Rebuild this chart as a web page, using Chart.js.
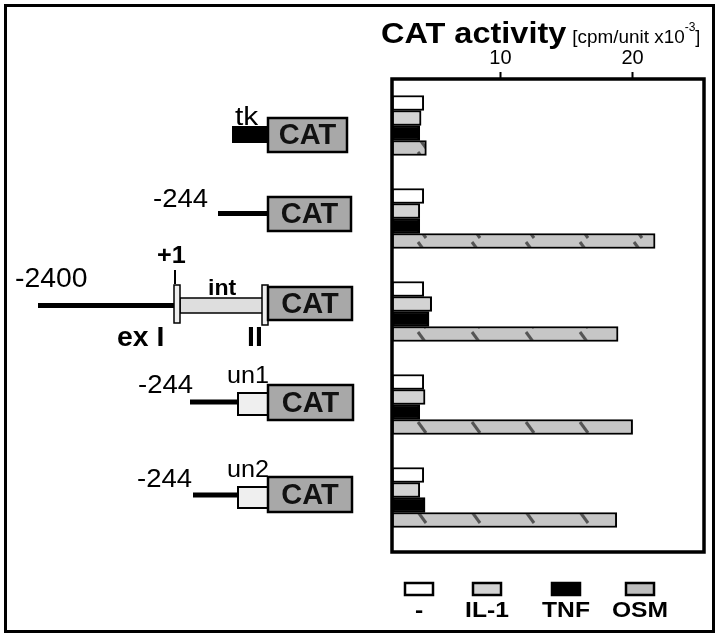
<!DOCTYPE html>
<html lang="en">
<head>
<meta charset="UTF-8">
<title>CAT activity</title>
<script src="https://cdn.jsdelivr.net/npm/chart.js"></script>
<style>
  body { margin: 0; background: #fff; }
</style>
</head>
<body>
<canvas id="myChart" width="720" height="644"></canvas>

<script>
// constructs, top to bottom
var constructs = ['tk', '-244', '-2400', '-244 un1', '-244 un2'];
// CAT activity [cpm/unit x10^-3]
var ctrlData = [4.2, 4.2, 4.2, 4.2, 4.2];
var il1Data  = [4.0, 3.9, 4.8, 4.3, 3.9];
var tnfData  = [3.9, 3.9, 4.6, 3.9, 4.3];
var osmData  = [4.4, 21.7, 18.9, 20.0, 18.8];
var treatments = ['-', 'IL-1', 'TNF', 'OSM'];
var xTicks = [10, 20];
var xMin = 1.8, xMax = 25.4;

var FONT = '"Liberation Sans", Arial, sans-serif';
var canvas = document.getElementById('myChart');
var c2d = canvas.getContext('2d');

// grey bar with a dark slash every so often (OSM)
function slashPattern() {
    var p = document.createElement('canvas');
    p.width = 54; p.height = 15;
    var g = p.getContext('2d');
    g.fillStyle = '#c6c6c6';
    g.fillRect(0, 0, 54, 15);
    g.strokeStyle = '#555';
    g.lineWidth = 3;
    g.beginPath(); g.moveTo(40, 2); g.lineTo(48, 13); g.stroke();
    return c2d.createPattern(p, 'repeat');
}

var fills = ['#ffffff', '#d3d3d3', '#000000', slashPattern()];
var swatchFills = ['#ffffff', '#d3d3d3', '#000000', '#bdbdbd'];
var series = [ctrlData, il1Data, tnfData, osmData];

// text with a little horizontal stretch, the figure's lettering is wide
function text(str, x, y, size, bold, sx) {
    sx = sx || 1;
    c2d.save();
    c2d.translate(x, y);
    c2d.scale(sx, 1);
    c2d.font = (bold ? 'bold ' : '') + size + 'px ' + FONT;
    c2d.fillStyle = '#000';
    c2d.textAlign = 'left';
    c2d.textBaseline = 'alphabetic';
    c2d.fillText(str, 0, 0);
    var w = c2d.measureText(str).width * sx;
    c2d.restore();
    return w;
}

function catBox(ctx, x, y, w, h) {
    ctx.fillStyle = '#a8a8a8';
    ctx.fillRect(x, y, w, h);
    ctx.strokeStyle = '#000';
    ctx.lineWidth = 2.5;
    ctx.strokeRect(x, y, w, h);
    ctx.font = 'bold 29px ' + FONT;
    ctx.fillStyle = '#111';
    ctx.textAlign = 'center';
    ctx.textBaseline = 'middle';
    ctx.fillText('CAT', x + w / 2, y + h / 2 + 1);
}

function hline(ctx, x1, x2, y, lw) {
    ctx.strokeStyle = '#000';
    ctx.lineWidth = lw;
    ctx.beginPath(); ctx.moveTo(x1, y); ctx.lineTo(x2, y); ctx.stroke();
}

function smallBox(ctx, x, y, w, h, fill, lw) {
    ctx.fillStyle = fill;
    ctx.fillRect(x, y, w, h);
    ctx.strokeStyle = '#000';
    ctx.lineWidth = lw;
    ctx.strokeRect(x, y, w, h);
}

// promoter constructs on the left, title, frame and legend
var figurePlugin = {
    id: 'figure',
    afterDraw: function (chart) {
        var ctx = chart.ctx;
        var a = chart.chartArea;
        ctx.save();

        // outer frame
        ctx.strokeStyle = '#000';
        ctx.lineWidth = 3;
        ctx.strokeRect(5.5, 5.5, 708, 626);

        // chart box (a bit of white under the last group)
        ctx.lineWidth = 3.5;
        ctx.strokeRect(a.left, a.top, a.right - a.left, a.bottom + 8 - a.top);

        // title
        var x = 381;
        x += text('CAT activity', x, 43, 29, true, 1.12) + 6;
        x += text('[cpm/unit x10', x, 43, 18, false, 1.05);
        x += text('-3', x, 31, 12, false);
        text(']', x, 43, 18, false);

        // tk
        ctx.fillStyle = '#000';
        ctx.fillRect(232, 126, 36, 17);
        text('tk', 235, 125, 26, false, 1.15);
        catBox(ctx, 268, 118, 79, 34);

        // -244
        text('-244', 153, 207, 25, false, 1.1);
        hline(ctx, 218, 268, 213.5, 5);
        catBox(ctx, 268, 197, 83, 34);

        // -2400 with exon I, intron, exon II
        text('-2400', 15, 287, 27, false, 1.05);
        hline(ctx, 38, 176, 305.5, 5);
        smallBox(ctx, 180, 298, 83, 15, '#dedede', 1.5);
        smallBox(ctx, 174, 285, 6, 38, '#eeeeee', 1.5);
        smallBox(ctx, 262, 285, 6, 40, '#eeeeee', 1.5);
        ctx.lineWidth = 2;
        ctx.beginPath(); ctx.moveTo(175, 270); ctx.lineTo(175, 284); ctx.stroke();
        text('+1', 157, 263, 24, true, 1.05);
        text('int', 208, 295, 22, true, 1.05);
        catBox(ctx, 268, 287, 84, 33);
        text('ex I', 117, 346, 27, true, 1.05);
        text('II', 247, 346, 27, true, 1.05);

        // -244 un1
        text('-244', 138, 393, 25, false, 1.1);
        hline(ctx, 190, 238, 402, 5);
        smallBox(ctx, 238, 393, 30, 22, '#efefef', 2);
        text('un1', 227, 383, 24, false, 1.05);
        catBox(ctx, 268, 385, 85, 35);

        // -244 un2
        text('-244', 137, 487, 25, false, 1.1);
        hline(ctx, 193, 238, 495, 5);
        smallBox(ctx, 238, 487, 30, 21, '#efefef', 2);
        text('un2', 227, 477, 24, false, 1.05);
        catBox(ctx, 268, 477, 84, 35);

        // legend: swatch above, label below
        var legendX = [419, 487, 566, 640];
        chart.data.datasets.forEach(function (ds, i) {
            var cx = legendX[i];
            ctx.fillStyle = swatchFills[i];
            ctx.fillRect(cx - 14, 583, 28, 12);
            ctx.strokeStyle = '#000';
            ctx.lineWidth = 2.5;
            ctx.strokeRect(cx - 14, 583, 28, 12);
            ctx.save();
            ctx.translate(cx, 617);
            ctx.scale(1.12, 1);
            ctx.font = 'bold 22px ' + FONT;
            ctx.fillStyle = '#000';
            ctx.textAlign = 'center';
            ctx.textBaseline = 'alphabetic';
            ctx.fillText(ds.label, 0, 0);
            ctx.restore();
        });

        ctx.restore();
    }
};

var datasets = treatments.map(function (t, i) {
    return {
        label: t,
        data: series[i],
        base: xMin,
        backgroundColor: fills[i],
        borderColor: '#000',
        borderWidth: 2,
        borderSkipped: false,
        barThickness: 15
    };
});

var myChart = new Chart(canvas, {
    type: 'bar',
    data: {
        labels: constructs,
        datasets: datasets
    },
    options: {
        indexAxis: 'y',
        responsive: false,
        animation: false,
        devicePixelRatio: 1,
        layout: {
            padding: { left: 392, right: 16, top: 0, bottom: 100 }
        },
        plugins: {
            legend: { display: false },
            tooltip: { enabled: false }
        },
        scales: {
            x: {
                position: 'top',
                min: xMin,
                max: xMax,
                afterBuildTicks: function (scale) {
                    scale.ticks = xTicks.map(function (v) { return { value: v }; });
                },
                afterFit: function (scale) { scale.height = 79; },
                ticks: {
                    color: '#000',
                    font: { family: FONT, size: 20 },
                    padding: 2,
                    maxRotation: 0
                },
                grid: {
                    drawOnChartArea: false,
                    drawTicks: true,
                    tickLength: 7,
                    tickWidth: 2,
                    tickColor: '#000'
                },
                border: { display: false }
            },
            y: {
                display: false,
                grid: { display: false }
            }
        }
    },
    plugins: [figurePlugin]
});
</script>
</body>
</html>
